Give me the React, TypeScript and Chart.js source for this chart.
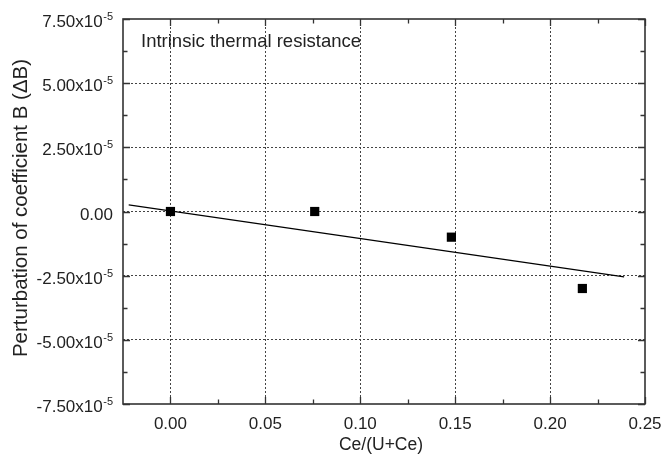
import React, { useEffect, useRef } from 'react';
import { Chart, registerables } from 'chart.js';

Chart.register(...registerables);

// ---- data ----
const xTicks = [0, 0.05, 0.1, 0.15, 0.2, 0.25];
const xTickLabels = ['0.00', '0.05', '0.10', '0.15', '0.20', '0.25'];
const xMinorTicks = [0.025, 0.075, 0.125, 0.175, 0.225];
const yTicks = [-7.5e-5, -5e-5, -2.5e-5, 0, 2.5e-5, 5e-5, 7.5e-5];
const yTickMantissas = ['-7.50', '-5.00', '-2.50', '0.00', '2.50', '5.00', '7.50'];
const yMinorTicks = [-6.25e-5, -3.75e-5, -1.25e-5, 1.25e-5, 3.75e-5, 6.25e-5];
const pointX = [0, 0.076, 0.148, 0.217];
const pointY = [0, 0, -1.0e-5, -3.0e-5];
const fitX = [-0.022, 0.239];
const fitY = [2.6e-6, -2.55e-5];
const xTitle = 'Ce/(U+Ce)';
const yTitle = 'Perturbation of coefficient B (\u0394B)';
const annotation = 'Intrinsic thermal resistance';

const FONT = '"Liberation Sans", Arial, Helvetica, sans-serif';
const INK = '#222';
const FRAME = '#333';

const framePlugin = {
  id: 'framePlugin',
  afterDraw(chart: any) {
    const ctx = chart.ctx;
    const { left, right, top, bottom } = chart.chartArea;
    const xs = chart.scales.x;
    const ys = chart.scales.y;
    ctx.save();
    // frame
    ctx.strokeStyle = FRAME;
    ctx.lineWidth = 1.6;
    ctx.strokeRect(left, top, right - left, bottom - top);
    // inward ticks
    ctx.lineWidth = 1.3;
    const drawX = (v: number, len: number) => {
      const px = Math.round(xs.getPixelForValue(v)) + 0.5;
      ctx.beginPath();
      ctx.moveTo(px, bottom);
      ctx.lineTo(px, bottom - len);
      ctx.moveTo(px, top);
      ctx.lineTo(px, top + len);
      ctx.stroke();
    };
    const drawY = (v: number, len: number) => {
      const py = Math.round(ys.getPixelForValue(v)) + 0.5;
      ctx.beginPath();
      ctx.moveTo(left, py);
      ctx.lineTo(left + len, py);
      ctx.moveTo(right, py);
      ctx.lineTo(right - len, py);
      ctx.stroke();
    };
    xTicks.forEach((v) => drawX(v, 7));
    xMinorTicks.forEach((v) => drawX(v, 4.5));
    yTicks.forEach((v) => drawY(v, 7));
    yMinorTicks.forEach((v) => drawY(v, 4.5));

    // y tick labels with superscript exponents
    ctx.fillStyle = INK;
    const labelRight = left - 10;
    yTicks.forEach((v, i) => {
      const py = ys.getPixelForValue(v);
      const mant = yTickMantissas[i];
      ctx.textBaseline = 'alphabetic';
      if (v === 0) {
        ctx.font = `17px ${FONT}`;
        ctx.textAlign = 'right';
        ctx.fillText(mant, labelRight, py + 8);
      } else {
        ctx.font = `11px ${FONT}`;
        const sup = '-5';
        const supW = ctx.measureText(sup).width;
        ctx.textAlign = 'right';
        ctx.fillText(sup, labelRight, py + 1);
        ctx.font = `17px ${FONT}`;
        ctx.fillText(mant + 'x10', labelRight - supW - 0.5, py + 8);
      }
    });

    // annotation
    ctx.font = `18.5px ${FONT}`;
    ctx.textAlign = 'left';
    ctx.textBaseline = 'middle';
    ctx.fillText(annotation, left + 18, top + 23);

    // axis titles
    ctx.font = `17.5px ${FONT}`;
    ctx.textAlign = 'center';
    ctx.textBaseline = 'middle';
    ctx.fillText(xTitle, (left + right) / 2 - 3, 445);

    ctx.save();
    ctx.translate(21, 208);
    ctx.rotate(-Math.PI / 2);
    ctx.font = `20.5px ${FONT}`;
    ctx.fillText(yTitle, 0, 0);
    ctx.restore();

    ctx.restore();
  },
};

export default function App() {
  const ref = useRef<HTMLCanvasElement | null>(null);
  useEffect(() => {
    document.body.style.margin = '0';
    if (!ref.current) return;
    const chart = new Chart(ref.current, {
      type: 'scatter',
      data: {
        datasets: [
          {
            label: 'data',
            data: pointX.map((x, i) => ({ x, y: pointY[i] })),
            pointStyle: 'rect',
            pointRadius: 6.5,
            pointHoverRadius: 6.5,
            backgroundColor: '#000',
            borderColor: '#000',
            borderWidth: 0,
            showLine: false,
            order: 1,
          },
          {
            label: 'fit',
            data: fitX.map((x, i) => ({ x, y: fitY[i] })),
            showLine: true,
            borderColor: '#000',
            borderWidth: 1.2,
            pointRadius: 0,
            fill: false,
            order: 2,
          },
        ],
      },
      options: {
        responsive: false,
        animation: false,
        events: [],
        layout: { padding: { top: 19, right: 18, left: 0, bottom: 0 } },
        plugins: {
          legend: { display: false },
          tooltip: { enabled: false },
          title: { display: false },
        },
        scales: {
          x: {
            type: 'linear',
            min: -0.025,
            max: 0.25,
            afterBuildTicks: (scale: any) => {
              scale.ticks = xTicks.map((v) => ({ value: v }));
            },
            afterFit: (scale: any) => {
              scale.height = 52;
              scale.paddingLeft = 0;
              scale.paddingRight = 0;
            },
            ticks: {
              display: true,
              autoSkip: false,
              maxRotation: 0,
              padding: 10,
              color: INK,
              font: { family: FONT, size: 17 },
              callback: (_v: any, i: number) => xTickLabels[i],
            },
            grid: {
              drawTicks: false,
              lineWidth: 1,
              color: (c: any) => (c.tick && c.tick.value === 0.25 ? 'rgba(0,0,0,0)' : '#444'),
            },
            border: { display: false, dash: [2, 2] },
          },
          y: {
            type: 'linear',
            min: -7.5e-5,
            max: 7.5e-5,
            afterBuildTicks: (scale: any) => {
              scale.ticks = yTicks.map((v) => ({ value: v }));
            },
            afterFit: (scale: any) => {
              scale.width = 123;
              scale.paddingTop = 0;
              scale.paddingBottom = 0;
            },
            ticks: { display: false },
            grid: {
              drawTicks: false,
              lineWidth: 1,
              color: (c: any) =>
                c.tick && Math.abs(c.tick.value) > 7e-5 ? 'rgba(0,0,0,0)' : '#444',
            },
            border: { display: false, dash: [2, 2] },
          },
        },
      },
      plugins: [framePlugin],
    });
    return () => chart.destroy();
  }, []);
  return <canvas ref={ref} width={663} height={456} style={{ display: 'block' }} />;
}
